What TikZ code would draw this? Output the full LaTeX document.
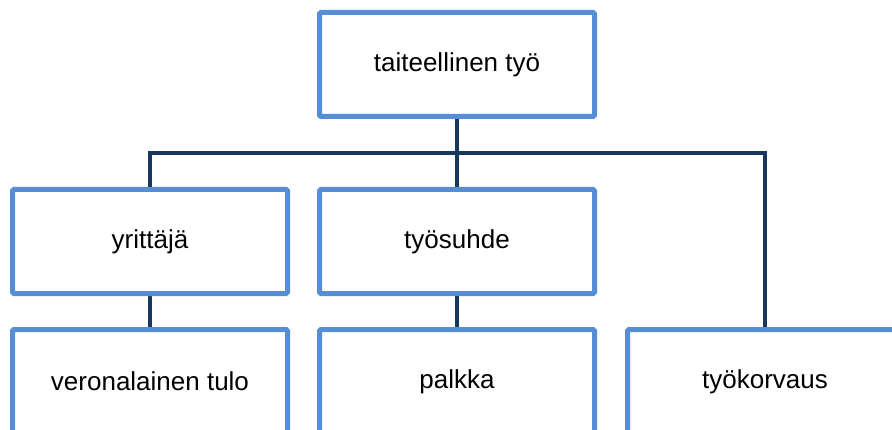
\documentclass[tikz,border=0pt]{standalone}
\usepackage{fontspec}
\setmainfont{Liberation Sans}
\usetikzlibrary{backgrounds}
\definecolor{boxblue}{RGB}{85,142,213}
\definecolor{linkblue}{RGB}{23,55,94}

\tikzset{
  orgbox/.style={draw=boxblue, line width=5pt, fill=white, rounded corners=1.5pt,
    minimum width=275pt, minimum height=104pt, inner sep=0pt,
    font=\fontsize{26}{30}\selectfont},
  link/.style={draw=linkblue, line width=4.5pt}
}

\begin{document}
\begin{tikzpicture}[x=1pt, y=1pt]
  \useasboundingbox (0,0) rectangle (892,429);
  \clip (0,0) rectangle (892,429);

  % levels
  \def\ytop{364.5}
  \def\ymid{187.5}
  \def\ylow{47.5}

  \node[orgbox] (taide) at (457,\ytop) {taiteellinen työ};

  \node[orgbox] (yrittaja) at (150,\ymid) {yrittäjä};
  \node[orgbox] (tyosuhde) at (457,\ymid) {työsuhde};

  \node[orgbox] (vero) at (150,\ylow) {veronalainen tulo};
  \node[orgbox] (palkka) at (457,\ylow) {palkka};
  \node[orgbox] (korvaus) at (765,\ylow) {työkorvaus};

  \coordinate (bus) at (457,276);

  \begin{scope}[on background layer]
    \draw[link] (taide.south) -- (tyosuhde.north);
    \draw[link] (yrittaja.north) |- (bus) -| (korvaus.north);
    \draw[link] (yrittaja.south) -- (vero.north);
    \draw[link] (tyosuhde.south) -- (palkka.north);
  \end{scope}
\end{tikzpicture}
\end{document}
